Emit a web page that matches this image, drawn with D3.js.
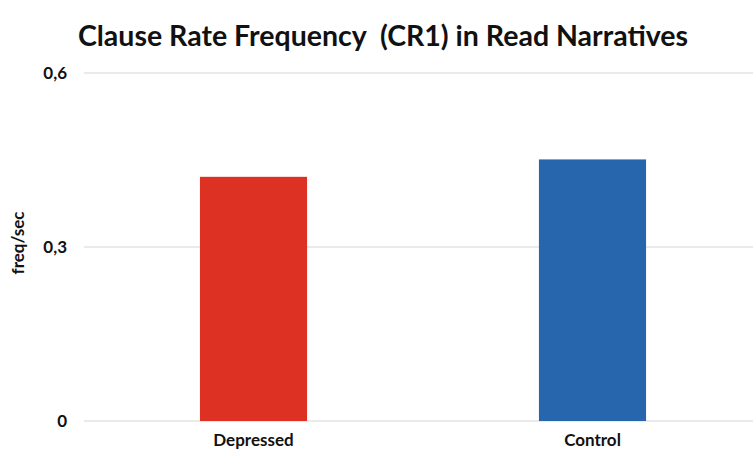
<!DOCTYPE html>
<html>
<head>
<meta charset="utf-8">
<script src="https://cdn.jsdelivr.net/npm/d3@7"></script>
<style>
  body { margin: 0; background: #fff; }
  text { font-family: Lato, "Open Sans", sans-serif; fill: #111; }
</style>
</head>
<body>
<div id="chart"></div>
<script>
const groups = ["Depressed", "Control"];
const freq = [0.421, 0.451];
const barColors = ["#dd3223", "#2766ac"];
const yTicks = [0, 0.3, 0.6];

const W = 753, H = 459;
const m = {top: 73, right: 0, bottom: 38, left: 84}; // plot box

const svg = d3.select("#chart").append("svg")
  .attr("width", W).attr("height", H);

const x = d3.scaleBand()
  .domain(groups)
  .range([m.left, 762])
  .paddingInner(0.684)
  .paddingOuter(0.342);

const y = d3.scaleLinear()
  .domain([0, 0.6])
  .range([421, m.top]);

// gridlines
svg.append("g")
  .selectAll("line")
  .data(yTicks)
  .join("line")
  .attr("x1", m.left).attr("x2", W)
  .attr("y1", d => y(d)).attr("y2", d => y(d))
  .attr("stroke", "#e3e3e3")
  .attr("stroke-width", 1.5);

// y tick labels
svg.append("g")
  .selectAll("text")
  .data(yTicks)
  .join("text")
  .attr("x", 67)
  .attr("y", d => y(d))
  .attr("dy", "0.35em")
  .attr("text-anchor", "end")
  .attr("font-size", 17)
  .attr("font-weight", 700)
  .text(d => d === 0 ? "0" : d3.format(".1f")(d).replace(".", ","));

// bars
svg.append("g")
  .selectAll("rect")
  .data(groups)
  .join("rect")
  .attr("x", d => x(d))
  .attr("width", x.bandwidth())
  .attr("y", (d, i) => y(freq[i]))
  .attr("height", (d, i) => y(0) - y(freq[i]))
  .attr("fill", (d, i) => barColors[i]);

// x labels
svg.append("g")
  .selectAll("text")
  .data(groups)
  .join("text")
  .attr("x", d => x(d) + x.bandwidth() / 2)
  .attr("y", 446)
  .attr("text-anchor", "middle")
  .attr("font-size", 17)
  .attr("font-weight", 700)
  .text(d => d);

// y axis title
svg.append("text")
  .attr("transform", "translate(24,243) rotate(-90)")
  .attr("text-anchor", "middle")
  .attr("font-size", 17)
  .attr("font-weight", 700)
  .text("freq/sec");

// chart title
svg.append("text")
  .attr("x", 383)
  .attr("y", 46)
  .attr("text-anchor", "middle")
  .attr("font-size", 28.5)
  .attr("font-weight", 700)
  .style("white-space", "pre")
  .text("Clause Rate Frequency  (CR1) in Read Narratives");
</script>
</body>
</html>
